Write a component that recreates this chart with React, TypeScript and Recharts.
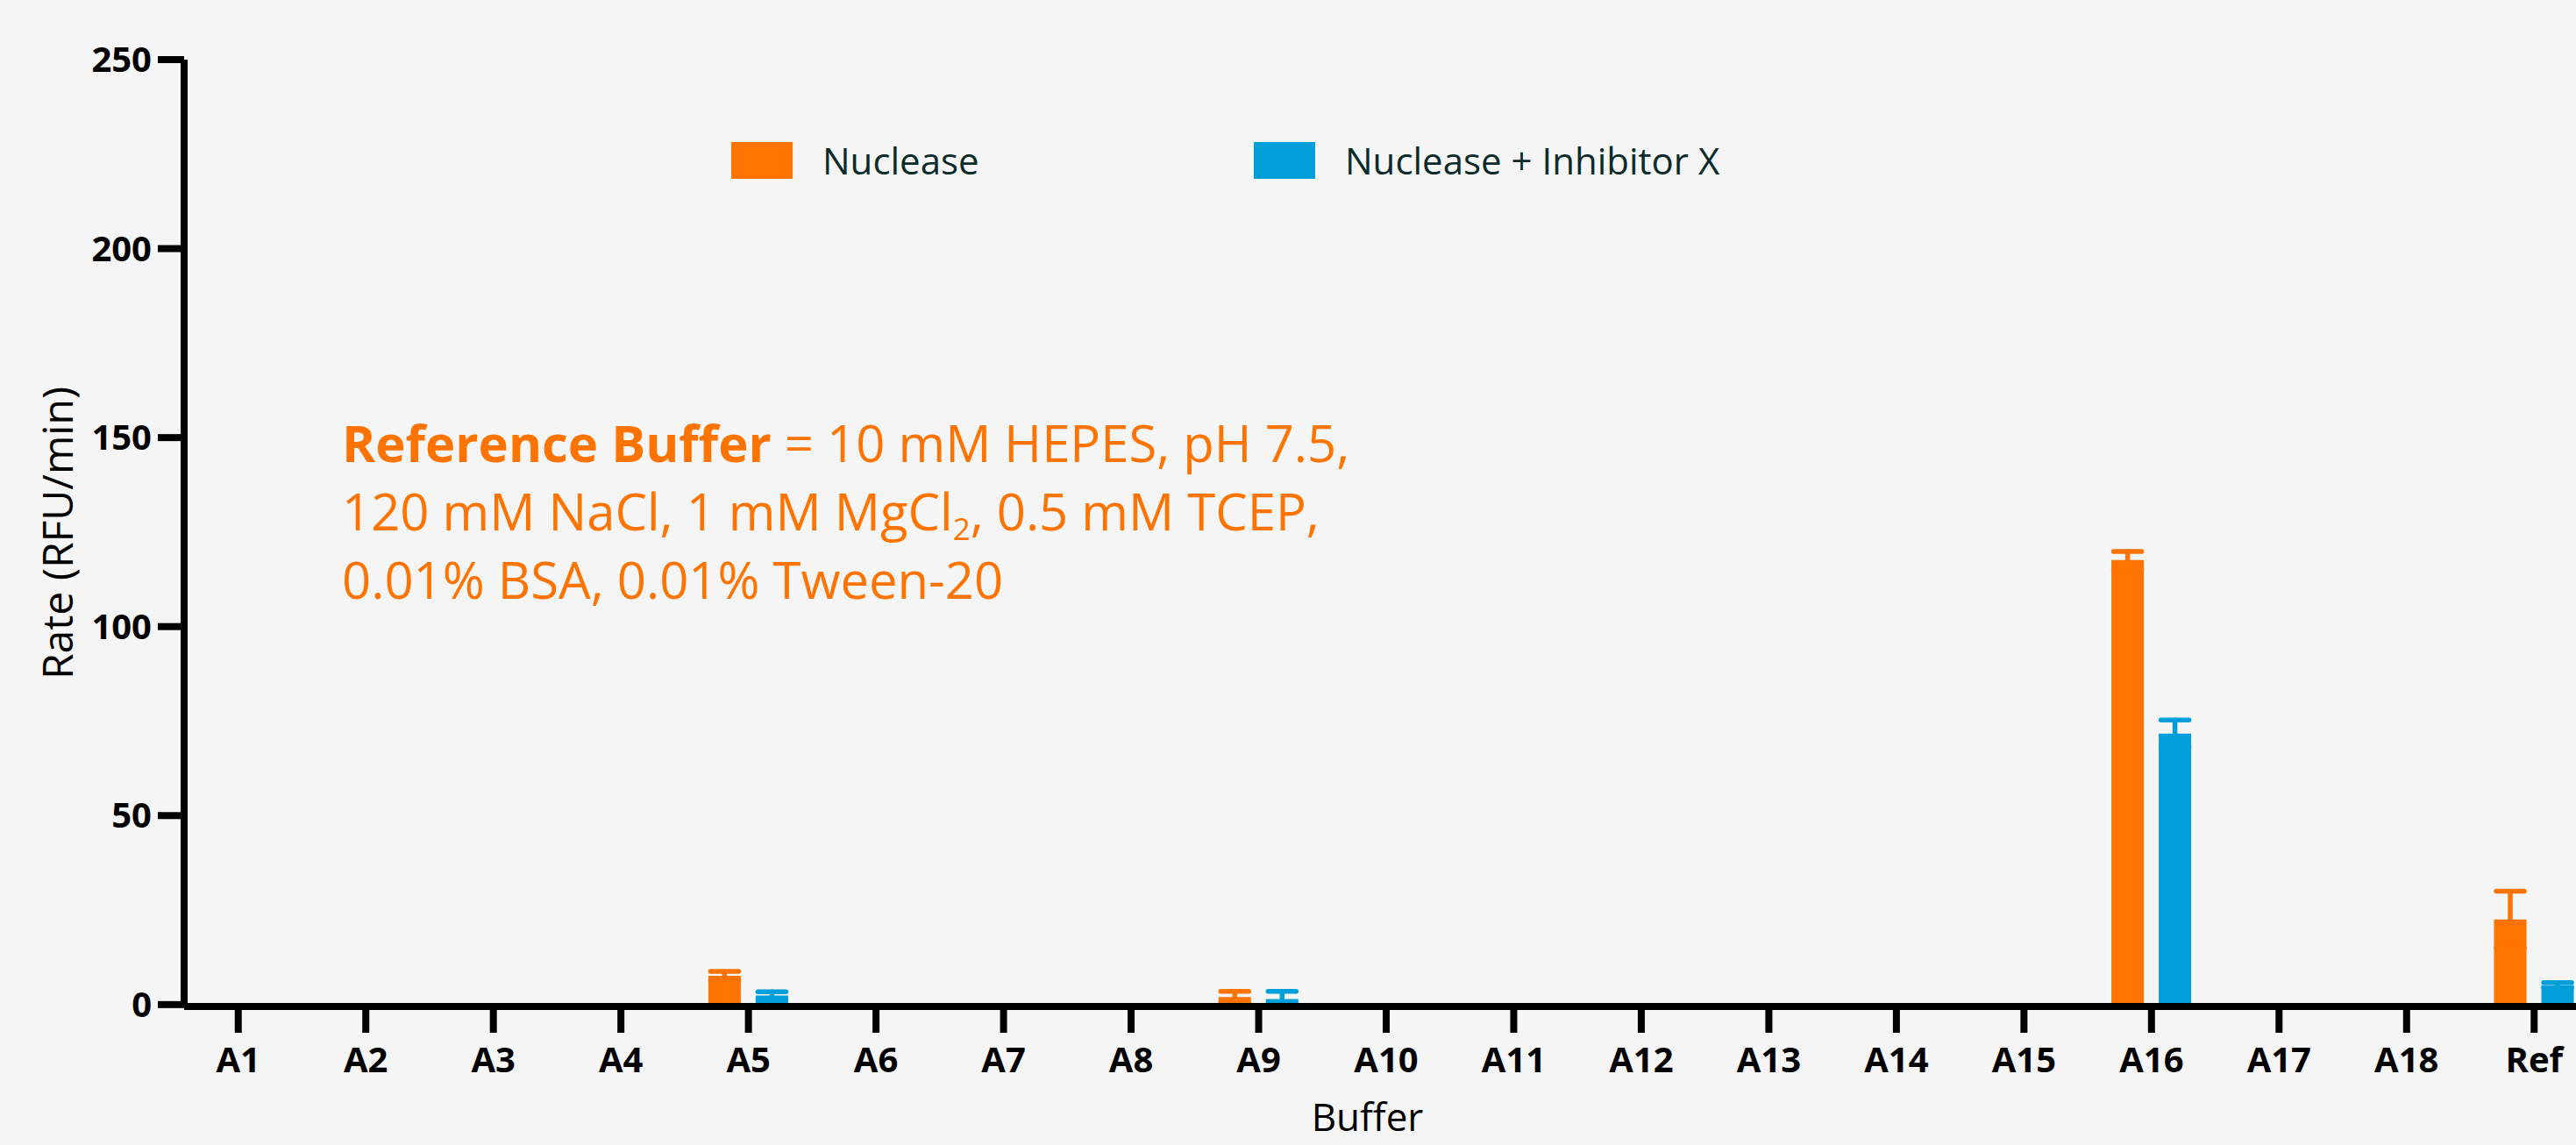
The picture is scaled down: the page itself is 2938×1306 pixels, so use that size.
import { BarChart, Bar, XAxis, YAxis, ErrorBar, Legend, Label } from "recharts";

const ORANGE = "#ff7300";
const BLUE = "#009fd9";
const FONT = "'Open Sans', sans-serif";

const buffers = ["A1", "A2", "A3", "A4", "A5", "A6", "A7", "A8", "A9", "A10", "A11", "A12", "A13", "A14", "A15", "A16", "A17", "A18", "Ref"];
// null = no bar drawn for that buffer
const nuclease = [null, null, null, null, 7.6, null, null, null, 2.0, null, null, null, null, null, null, 117.6, null, null, 22.5];
const nucleaseErr = [null, null, null, null, 1.2, null, null, null, 1.5, null, null, null, null, null, null, 2.3, null, null, 7.5];
const inhibitor = [null, null, null, null, 2.4, null, null, null, 1.5, null, null, null, null, null, null, 71.7, null, null, 5.1];
const inhibitorErr = [null, null, null, null, 1.0, null, null, null, 2.0, null, null, null, null, null, null, 3.6, null, null, 0.7];
const yTicks = [0, 50, 100, 150, 200, 250];

const data = buffers.map((name, i) => ({
  name,
  nuclease: nuclease[i],
  nucErr: nucleaseErr[i],
  inhibitor: inhibitor[i],
  inhErr: inhibitorErr[i],
}));

function LegendContent({ payload }: { payload?: Array<{ value: string; color: string }> }) {
  if (!payload) return null;
  return (
    <div style={{ display: "flex", fontFamily: FONT, fontSize: 42, color: "#0b2b2b" }}>
      {payload.map((p, i) => (
        <div key={i} style={{ display: "flex", alignItems: "center", width: i === 0 ? 596 : 700 }}>
          <div style={{ width: 70, height: 42, background: p.color, marginRight: 34 }} />
          <span>{p.value}</span>
        </div>
      ))}
    </div>
  );
}

export default function App() {
  const axisTick = { fill: "#000", fontSize: 40, fontWeight: 700, fontFamily: FONT };
  return (
    <div style={{ position: "fixed", left: 0, top: 0, width: 2938, height: 1306, overflow: "hidden", background: "#f5f5f5" }}>
      <BarChart
        width={2963}
        height={1306}
        data={data}
        margin={{ top: 68, right: 0, bottom: 0, left: 0 }}
        barSize={37}
        barGap={17}
      >
        <XAxis
          dataKey="name"
          height={158}
          padding={{ left: -11, right: 0 }}
          axisLine={{ stroke: "#000", strokeWidth: 8 }}
          tickLine={{ stroke: "#000", strokeWidth: 8 }}
          tickSize={30}
          tickMargin={17}
          tick={axisTick}
          interval={0}
        >
          <Label
            value="Buffer"
            position="insideBottom"
            offset={16}
            dx={-27}
            style={{ fill: "#000", fontSize: 44, fontFamily: FONT }}
          />
        </XAxis>
        <YAxis
          width={210}
          domain={[0, 250]}
          ticks={yTicks}
          axisLine={{ stroke: "#000", strokeWidth: 8 }}
          tickLine={{ stroke: "#000", strokeWidth: 8 }}
          tickSize={30}
          tickMargin={7}
          tick={axisTick}
        >
          <Label
            value="Rate (RFU/min)"
            angle={-90}
            position="insideLeft"
            offset={66}
            style={{ fill: "#000", fontSize: 48, fontFamily: FONT, textAnchor: "middle" }}
          />
        </YAxis>
        <Legend
          layout="horizontal"
          verticalAlign="middle"
          align="center"
          content={<LegendContent />}
          wrapperStyle={{ left: 834, top: 154, width: 1500 }}
        />
        <Bar dataKey="nuclease" name="Nuclease" fill={ORANGE} isAnimationActive={false}>
          <ErrorBar dataKey="nucErr" width={16} strokeWidth={5.5} stroke={ORANGE} strokeLinecap="round" direction="y" />
        </Bar>
        <Bar dataKey="inhibitor" name="Nuclease + Inhibitor X" fill={BLUE} isAnimationActive={false}>
          <ErrorBar dataKey="inhErr" width={16} strokeWidth={5.5} stroke={BLUE} strokeLinecap="round" direction="y" />
        </Bar>
      </BarChart>
      <div
        style={{
          position: "absolute",
          left: 390,
          top: 466,
          fontFamily: FONT,
          fontSize: 58,
          lineHeight: "78px",
          color: ORANGE,
        }}
      >
        <div>
          <b>Reference Buffer</b> = 10 mM HEPES, pH 7.5,
        </div>
        <div>
          120 mM NaCl, 1 mM MgCl<sub style={{ fontSize: 35, lineHeight: 0, verticalAlign: "-0.3em" }}>2</sub>, 0.5 mM TCEP,
        </div>
        <div>0.01% BSA, 0.01% Tween-20</div>
      </div>
    </div>
  );
}
